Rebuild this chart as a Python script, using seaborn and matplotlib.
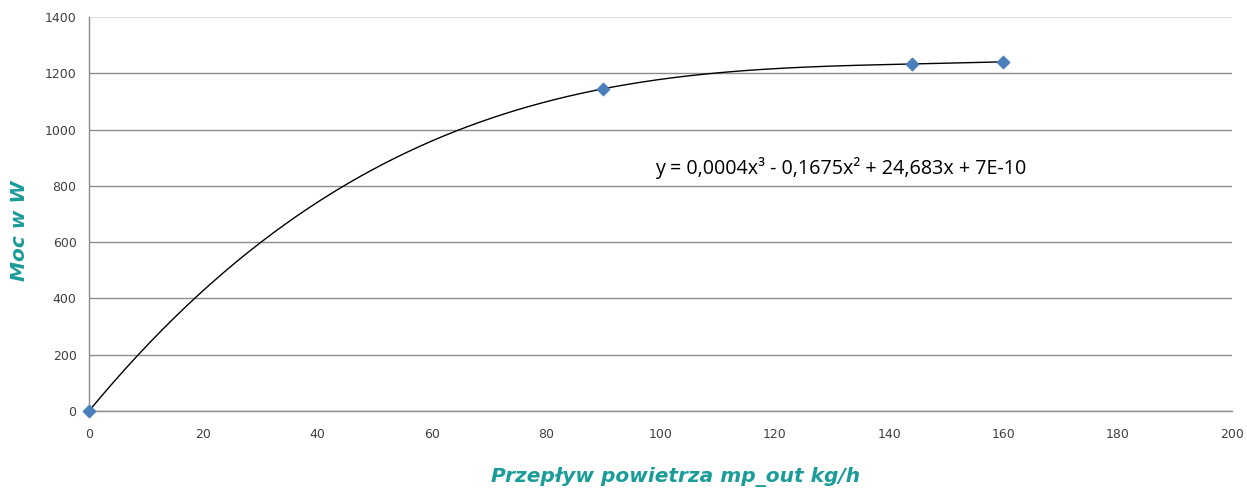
import numpy as np
import pandas as pd
import seaborn as sns
import matplotlib.pyplot as plt

# measured points (air flow kg/h -> power W)
flow = [0, 90, 144, 160]
power = [0, 1145, 1233, 1241]
x_ticks = [0, 20, 40, 60, 80, 100, 120, 140, 160, 180, 200]
y_ticks = [0, 200, 400, 600, 800, 1000, 1200, 1400]
equation = "y = 0,0004x³ - 0,1675x² + 24,683x + 7E-10"
x_label = "Przepływ powietrza mp_out kg/h"
y_label = "Moc w W"

TEAL = "#1A9C99"
TICK_COLOR = "#404040"
GRID_COLOR = "#8C8C8C"

sns.set_style("white")
plt.rcParams['font.family'] = ['DejaVu Sans']

df = pd.DataFrame({"flow": flow, "power": power})

# cubic trendline through the points, like Excel's polynomial fit
coef = np.polyfit(df["flow"], df["power"], 3)
xs = np.linspace(0, 160, 300)
trend = pd.DataFrame({"flow": xs, "power": np.polyval(coef, xs)})

fig = plt.figure(figsize=(12.47, 4.88), dpi=100)
ax = fig.add_axes([89 / 1247, 1 - 411 / 488, (1232 - 89) / 1247, (411 - 17) / 488])

sns.lineplot(data=trend, x="flow", y="power", ax=ax, color="black", linewidth=1.0)
sns.scatterplot(data=df, x="flow", y="power", ax=ax, marker="D", s=45,
                color="#4A7EBB", edgecolor="#4A7EBB", zorder=5, clip_on=False)

ax.set_xlim(0, 200)
ax.set_ylim(0, 1400)
ax.set_xticks(x_ticks)
ax.set_yticks(y_ticks)
ax.yaxis.grid(True, color=GRID_COLOR, linewidth=1.0)
ax.get_ygridlines()[-1].set_color("#E0E0E0")
ax.set_axisbelow(True)

for side in ["top", "right"]:
    ax.spines[side].set_visible(False)
for side in ["left", "bottom"]:
    ax.spines[side].set_color(GRID_COLOR)
    ax.spines[side].set_linewidth(1.0)

ax.tick_params(axis="both", direction="out", length=4, width=1.0, color=GRID_COLOR,
               labelsize=9, labelcolor=TICK_COLOR, pad=8)
ax.tick_params(axis="y", pad=5)

label_font = dict(fontsize=14.5, fontweight="bold", fontstyle="italic",
                  color=TEAL, family=["DejaVu Sans"])
ax.set_xlabel(x_label, **label_font)
ax.set_ylabel(y_label, **label_font)
ax.xaxis.label.set_verticalalignment("center")
ax.yaxis.label.set_verticalalignment("center")
ax.xaxis.set_label_coords((676 - 89) / 1143, (411 - 477) / 394)
ax.yaxis.set_label_coords((20 - 89) / 1143, (411 - 231) / 394)

ax.text(99, 863, equation, fontsize=14.2, color="black", va="center", ha="left",
        family=["Open Sans", "DejaVu Sans"])

fig.savefig("out.png", dpi=100)
